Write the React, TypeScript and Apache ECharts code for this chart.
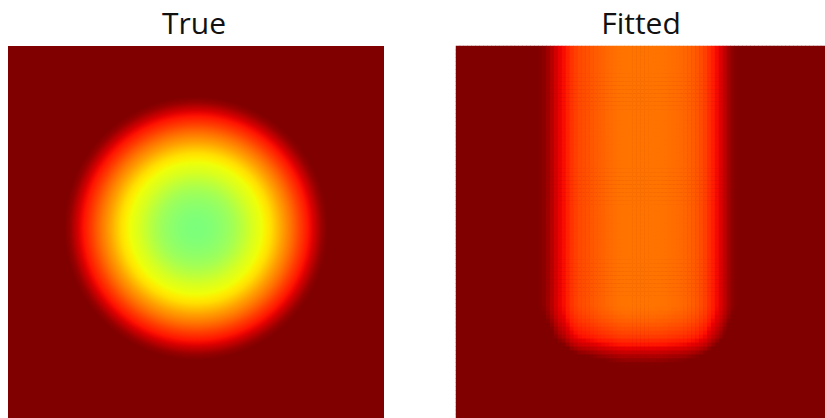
import React, { useEffect, useRef } from "react";
import * as echarts from "echarts";

// ---------- data ----------
const panelTitles = ["True", "Fitted"];

// "True": radial profile of the blob (image units, each panel spans 0..100)
const trueCenter = [50, 49];
const trueRadius = [0, 2.5, 5, 7.5, 10, 12.5, 15, 17.5, 20, 21.5, 23, 24.5, 26, 27.5, 29, 30.5, 32, 33.5, 35];
const trueValue = [0.5, 0.503, 0.513, 0.527, 0.548, 0.578, 0.612, 0.64, 0.675, 0.708, 0.742, 0.772, 0.805, 0.84, 0.872, 0.903, 0.942, 0.98, 1.0];

// "Fitted" (94 x 94 cells): depth of each column below the max value,
// and how much of that depth is cut away on each row (bottom fade)
const fittedColumnDepth = [
  0, 0, 0, 0, 0, 0, 0, 0, 0, 0, 0, 0, 0, 0, 0, 0, 0, 0, 0, 0, 0,
  0.004, 0.012, 0.028, 0.047, 0.072, 0.092, 0.104, 0.124, 0.143, 0.156,
  0.166, 0.171, 0.176, 0.181, 0.186, 0.191, 0.195, 0.199, 0.203, 0.207,
  0.21, 0.212, 0.213, 0.213, 0.213, 0.213, 0.213, 0.213, 0.213, 0.213,
  0.212, 0.211, 0.21, 0.207, 0.205, 0.203, 0.2, 0.197, 0.192, 0.187,
  0.18, 0.168, 0.157, 0.138, 0.12, 0.101, 0.08, 0.055, 0.03, 0.012, 0.003,
  0, 0, 0, 0, 0, 0, 0, 0, 0, 0, 0, 0, 0, 0, 0, 0, 0, 0, 0, 0, 0, 0,
];
const fittedRowCut = [
  0, 0, 0, 0, 0, 0, 0, 0, 0, 0, 0, 0, 0, 0, 0, 0,
  0, 0, 0, 0, 0, 0, 0, 0, 0, 0, 0, 0, 0, 0, 0, 0,
  0, 0, 0, 0, 0, 0, 0, 0, 0, 0, 0, 0, 0, 0, 0, 0,
  0, 0, 0, 0, 0, 0, 0, 0, 0, 0, 0, 0, 0, 0, 0, 0,
  0, 0, 0.003, 0.008, 0.014, 0.021, 0.03, 0.04, 0.05, 0.062, 0.08,
  0.1, 0.125, 0.15, 0.175, 0.195, 0.21, 0.225,
  0.25, 0.25, 0.25, 0.25, 0.25, 0.25, 0.25, 0.25, 0.25, 0.25, 0.25, 0.25,
];
const valueRange = [0, 1];

// ---------- jet colormap (matplotlib segment data) ----------
const JET_R = [[0, 0], [0.35, 0], [0.66, 1], [0.89, 1], [1, 0.5]];
const JET_G = [[0, 0], [0.125, 0], [0.375, 1], [0.64, 1], [0.91, 0], [1, 0]];
const JET_B = [[0, 0.5], [0.11, 1], [0.34, 1], [0.65, 0], [1, 0]];

function seg(pts: number[][], v: number): number {
  const x = Math.max(0, Math.min(1, v));
  for (let k = 1; k < pts.length; k++) {
    if (x <= pts[k][0]) {
      const [x0, y0] = pts[k - 1];
      const [x1, y1] = pts[k];
      const t = x1 === x0 ? 0 : (x - x0) / (x1 - x0);
      return y0 + (y1 - y0) * t;
    }
  }
  return pts[pts.length - 1][1];
}
function jet(v: number): string {
  const r = Math.round(seg(JET_R, v) * 255);
  const g = Math.round(seg(JET_G, v) * 255);
  const b = Math.round(seg(JET_B, v) * 255);
  return `rgb(${r},${g},${b})`;
}
const jetScale: string[] = [];
for (let k = 0; k <= 200; k++) jetScale.push(jet(k / 200));

export default function App() {
  const ref = useRef<HTMLDivElement>(null);

  useEffect(() => {
    if (!ref.current) return;
    const chart = echarts.init(ref.current, undefined, { renderer: "svg" });

    // rings drawn from outermost to innermost
    const trueRings: number[][] = [];
    for (let k = trueRadius.length - 1; k >= 1; k--) {
      trueRings.push([trueRadius[k], trueValue[k], trueRadius[k - 1], trueValue[k - 1]]);
    }

    const cols = fittedColumnDepth.map((_, i) => String(i));
    const rows = fittedRowCut.map((_, j) => String(j));
    const fittedCells: number[][] = [];
    for (let j = 0; j < fittedRowCut.length; j++) {
      for (let i = 0; i < fittedColumnDepth.length; i++) {
        const depth = Math.max(0, fittedColumnDepth[i] - fittedRowCut[j]);
        fittedCells.push([i, j, valueRange[1] - depth]);
      }
    }

    const titleStyle = {
      fontFamily: "'Open Sans', 'Noto Sans', sans-serif",
      fontSize: 30,
      fontWeight: "normal" as const,
      color: "#111",
    };

    const option: any = {
      animation: false,
      backgroundColor: "#ffffff",
      title: [
        { text: panelTitles[0], left: 194, top: 7, textAlign: "center", padding: 0, textStyle: titleStyle },
        { text: panelTitles[1], left: 641, top: 7, textAlign: "center", padding: 0, textStyle: titleStyle },
      ],
      grid: [
        { left: 8, top: 46, width: 376, height: 376, show: true, backgroundColor: jet(valueRange[1]), borderWidth: 0 },
        { left: 456, top: 46, width: 376, height: 376, show: true, backgroundColor: jet(valueRange[1]), borderWidth: 0 },
      ],
      xAxis: [
        { type: "value", gridIndex: 0, min: 0, max: 100, show: false },
        { type: "category", gridIndex: 1, data: cols, show: false },
      ],
      yAxis: [
        { type: "value", gridIndex: 0, min: 0, max: 100, inverse: true, show: false },
        { type: "category", gridIndex: 1, data: rows, inverse: true, show: false },
      ],
      visualMap: {
        type: "continuous",
        min: valueRange[0],
        max: valueRange[1],
        show: false,
        seriesIndex: 1,
        dimension: 2,
        inRange: { color: jetScale },
      },
      series: [
        {
          type: "custom",
          name: panelTitles[0],
          xAxisIndex: 0,
          yAxisIndex: 0,
          silent: true,
          progressive: 0,
          data: trueRings,
          renderItem: (params: any, api: any) => {
            const r = api.value(0);
            const v = api.value(1);
            const rIn = api.value(2);
            const vIn = api.value(3);
            const c = api.coord([trueCenter[0], trueCenter[1]]);
            const R = api.size([r, 0])[0];
            return {
              type: "circle",
              shape: { cx: c[0], cy: c[1], r: R },
              style: {
                fill: {
                  type: "radial",
                  x: 0.5,
                  y: 0.5,
                  r: 0.5,
                  colorStops: [
                    { offset: rIn / r, color: jet(vIn) },
                    { offset: (rIn / r + 1) / 2, color: jet((vIn + v) / 2) },
                    { offset: 1, color: jet(v) },
                  ],
                },
              },
            };
          },
        },
        {
          type: "heatmap",
          name: panelTitles[1],
          xAxisIndex: 1,
          yAxisIndex: 1,
          data: fittedCells,
          progressive: 0,
          silent: true,
          emphasis: { disabled: true },
        },
      ],
    };

    chart.setOption(option);
    return () => chart.dispose();
  }, []);

  return (
    <div
      ref={ref}
      style={{ position: "fixed", left: 0, top: 0, width: 825, height: 418 }}
    />
  );
}
